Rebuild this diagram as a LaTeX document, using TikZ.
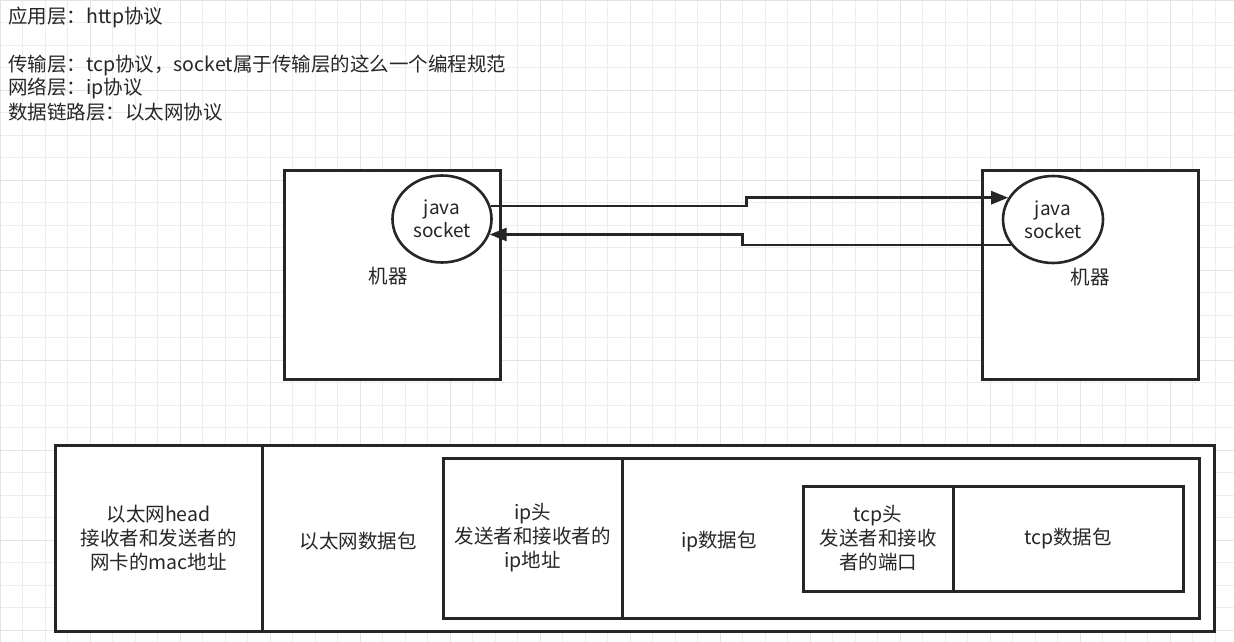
\documentclass[tikz,border=0pt]{standalone}
\usepackage{fontspec}
\setmainfont{Noto Sans CJK SC}
\usetikzlibrary{arrows.meta,shapes.geometric}

\tikzset{
  gridline/.style={draw=black!7, line width=0.8pt},
  gridmajor/.style={draw=black!11, line width=0.8pt},
  box/.style={draw=black!85, line width=3pt, fill=white, inner sep=0pt, align=center, text=black!85,
    font=\fontsize{19.5}{24}\selectfont},
  sock/.style={ellipse, draw=black!85, line width=2.6pt, fill=white, minimum width=99pt, minimum height=87pt,
    inner sep=0pt, align=center, text=black!85, font=\fontsize{19}{23}\selectfont},
  lbl/.style={text=black!85, align=center, inner sep=0pt, font=\fontsize{19.5}{24}\selectfont},
  link/.style={draw=black!85, line width=2.6pt, -{Triangle[length=17pt,width=13pt]}},
}

\begin{document}
\begin{tikzpicture}[x=1pt,y=-1pt]
		%%%%% GRID %%%%%
		\useasboundingbox (0,0) rectangle (1234,642);
		\fill[white] (0,0) rectangle (1234,642);
		\foreach \i in {0,...,54}
			\draw[gridline] (\i*22.5,0) -- (\i*22.5,642);
		\foreach \j in {0,...,28}
			\draw[gridline] (0,\j*22.5) -- (1234,\j*22.5);
		\foreach \i in {0,...,13}
			\draw[gridmajor] (\i*90,0) -- (\i*90,642);
		\foreach \j in {0,...,7}
			\draw[gridmajor] (0,\j*90) -- (1234,\j*90);
		
		%%%%% LAYERS %%%%%
		\node[lbl, anchor=west] (app) at (8,17) {应用层：http协议};
		\node[lbl, anchor=west] (trans) at (8,65) {传输层：tcp协议，socket属于传输层的这么一个编程规范};
		\node[lbl, anchor=west] (net) at (8,88) {网络层：ip协议};
		\node[lbl, anchor=west] (link) at (8,112) {数据链路层：以太网协议};
		
		%%%%% MACHINES %%%%%
		\node[box, minimum width=216pt, minimum height=209pt] (hostA) at (392,274.5) {};
		\node[box, minimum width=216pt, minimum height=209pt] (hostB) at (1090.5,275) {};
		\node[lbl] (nameA) at (388,276) {机器};
		\node[lbl] (nameB) at (1090,277) {机器};
		\node[sock] (sockA) at (442,219) {java\\socket};
		\node[sock, minimum width=100pt] (sockB) at (1053,219.5) {java\\socket};
		
		\draw[link] (sockA.15) -- ++(256,0) |- (sockB.154);
		\draw[link] (sockB.211) -- ++(-268,0) |- (sockA.342);
		
		%%%%% FRAME %%%%%
		\node[box, minimum width=207pt, minimum height=186pt] (ethHead) at (158.5,538)
			{以太网head\\接收者和发送者的\\网卡的mac地址};
		\node[box, minimum width=952pt, minimum height=186pt] (ethBody) at (738,538) {};
		\node[lbl] (ethTxt) at (358,541) {以太网数据包};
		
		\node[box, minimum width=179pt, minimum height=160pt] (ipHead) at (532.5,538)
			{ip头\\发送者和接收者的\\ip地址};
		\node[box, minimum width=577pt, minimum height=160pt] (ipBody) at (910.5,538) {};
		\node[lbl] (ipTxt) at (719,541) {ip数据包};
		
		\node[box, minimum width=150pt, minimum height=105pt] (tcpHead) at (878,538.5)
			{tcp头\\发送者和接收\\者的端口};
		\node[box, minimum width=230pt, minimum height=105pt] (tcpBody) at (1068,538.5) {tcp数据包};
		
		%%%%% END %%%%%
\end{tikzpicture}
\end{document}
